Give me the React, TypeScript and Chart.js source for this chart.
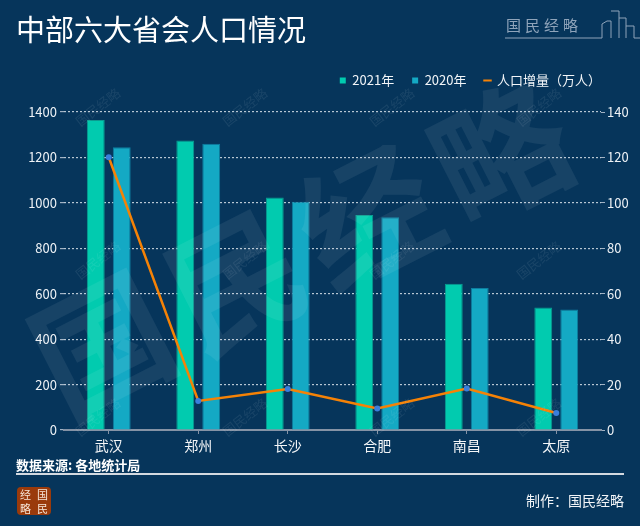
import React, { useEffect, useRef } from 'react';
import { Chart, registerables } from 'chart.js';

Chart.register(...registerables);

const categories = ['武汉', '郑州', '长沙', '合肥', '南昌', '太原'];
const pop2021 = [1364.9, 1274.2, 1023.9, 946.5, 643.8, 539.1];
const pop2020 = [1244.8, 1260.1, 1004.8, 937.0, 625.5, 530.4];
const increase = [120.1, 12.8, 18.0, 9.5, 18.3, 7.5];
const seriesNames = ['2021年', '2020年', '人口增量（万人）'];
const leftAxis = { min: 0, max: 1400, step: 200 };
const rightAxis = { min: 0, max: 140, step: 20 };
const watermarkText = ['国', '民', '经', '略'];

const FONT = '"Noto Sans CJK SC", "Noto Sans", sans-serif';
const BG = '#06355b';

const legendTweak = {
  id: 'legendTweak',
  beforeUpdate(chart: any) {
    const lg = chart.legend;
    if (lg && !lg._gapPatched) {
      const orig = lg.fit.bind(lg);
      lg.fit = function () {
        orig();
        this.height += 15;
      };
      lg._gapPatched = true;
    }
  },
  afterLayout(chart: any) {
    const lg = chart.legend;
    if (lg) {
      lg.right = 619;
      lg.width = lg.right - lg.left;
    }
  },
};

const watermark = {
  id: 'watermark',
  afterDraw(chart: any) {
    const ctx = chart.ctx as CanvasRenderingContext2D;
    ctx.save();
    ctx.fillStyle = 'rgba(255,255,255,0.07)';
    ctx.font = `bold 135px ${FONT}`;
    ctx.textAlign = 'center';
    ctx.textBaseline = 'middle';
    const ang = (-27 * Math.PI) / 180;
    watermarkText.forEach((ch, i) => {
      ctx.save();
      ctx.translate(102 + i * 133, 345 - i * 64);
      ctx.rotate(ang);
      ctx.fillText(ch, 0, 0);
      ctx.restore();
    });
    ctx.fillStyle = 'rgba(255,255,255,0.08)';
    ctx.font = `13px ${FONT}`;
    const xs = [98, 245, 392, 539];
    const ys = [107, 260, 417];
    ys.forEach((y) =>
      xs.forEach((x) => {
        ctx.save();
        ctx.translate(x, y);
        ctx.rotate((-38 * Math.PI) / 180);
        ctx.fillText(watermarkText.join(''), 0, 0);
        ctx.restore();
      })
    );
    ctx.restore();
  },
};

function ChartCanvas() {
  const ref = useRef<HTMLCanvasElement>(null);
  useEffect(() => {
    if (!ref.current) return;
    Chart.defaults.font.family = FONT;
    const chart = new Chart(ref.current, {
      type: 'bar',
      data: {
        labels: categories,
        datasets: [
          {
            type: 'bar',
            label: seriesNames[0],
            data: pop2021,
            backgroundColor: '#01cbaf',
            borderColor: '#0a9c90',
            borderWidth: 1,
            yAxisID: 'y',
            order: 1,
            categoryPercentage: 0.58,
            barPercentage: 0.69,
          },
          {
            type: 'bar',
            label: seriesNames[1],
            data: pop2020,
            backgroundColor: '#14a9c4',
            borderColor: '#0e7ea0',
            borderWidth: 1,
            yAxisID: 'y',
            order: 1,
            categoryPercentage: 0.58,
            barPercentage: 0.69,
          },
          {
            type: 'line',
            label: seriesNames[2],
            data: increase,
            borderColor: '#f58206',
            backgroundColor: '#f58206',
            borderWidth: 2.5,
            pointRadius: 3,
            pointBackgroundColor: '#3a7fdc',
            pointBorderColor: '#3a7fdc',
            pointBorderWidth: 0,
            tension: 0,
            yAxisID: 'y1',
            order: 0,
          } as any,
        ],
      },
      options: {
        responsive: false,
        animation: false,
        layout: { padding: { top: 56, left: 0, right: 0, bottom: 0 } },
        plugins: {
          tooltip: { enabled: false },
          legend: {
            display: true,
            position: 'top',
            align: 'end',
            labels: {
              color: '#f2f5f8',
              font: { size: 13, family: FONT },
              usePointStyle: true,
              boxWidth: 6,
              boxHeight: 6,
              padding: 18,
              generateLabels: (chart: any) =>
                chart.data.datasets.map((ds: any, i: number) => ({
                  text: ds.label,
                  fillStyle: ds.type === 'line' ? ds.borderColor : ds.backgroundColor,
                  strokeStyle: ds.type === 'line' ? ds.borderColor : ds.backgroundColor,
                  lineWidth: ds.type === 'line' ? 2 : 0,
                  pointStyle: ds.type === 'line' ? 'line' : 'rect',
                  fontColor: '#f2f5f8',
                  hidden: false,
                  datasetIndex: i,
                })),
            },
          },
        },
        scales: {
          x: {
            type: 'category',
            offset: true,
            ticks: { color: '#f4f6f8', font: { size: 14 }, padding: 3 },
            grid: {
              display: true,
              drawOnChartArea: false,
              offset: false,
              drawTicks: true,
              tickLength: 4,
              color: '#8593a6',
              tickColor: '#8593a6',
            },
            border: { display: true, color: '#8593a6', width: 2 },
            afterFit: (s: any) => {
              s.height = 96;
            },
          },
          y: {
            position: 'left',
            min: leftAxis.min,
            max: leftAxis.max,
            ticks: {
              stepSize: leftAxis.step,
              color: '#eef2f6',
              font: { size: 13 },
              padding: 3,
              callback: (v: any) => String(v),
            },
            grid: {
              color: 'rgba(215,224,233,0.85)',
              lineWidth: 1.2,
              tickLength: 4,
              tickColor: 'rgba(200,210,222,0.8)',
            },
            border: { display: false, dash: [2, 2] },
            afterFit: (s: any) => {
              s.width = 64;
            },
          },
          y1: {
            position: 'right',
            min: rightAxis.min,
            max: rightAxis.max,
            ticks: {
              stepSize: rightAxis.step,
              color: '#eef2f6',
              font: { size: 13 },
              padding: 2,
              callback: (v: any) => String(v),
            },
            grid: {
              drawOnChartArea: false,
              tickLength: 4,
              color: 'rgba(200,210,222,0.8)',
              tickColor: 'rgba(200,210,222,0.8)',
            },
            border: { display: false },
            afterFit: (s: any) => {
              s.width = 39;
            },
          },
        },
      } as any,
      plugins: [legendTweak, watermark],
    });
    return () => chart.destroy();
  }, []);
  return (
    <canvas
      ref={ref}
      width={640}
      height={526}
      style={{ position: 'absolute', left: 0, top: 0, width: 640, height: 526 }}
    />
  );
}

export default function App() {
  return (
    <div
      style={{
        position: 'fixed',
        left: 0,
        top: 0,
        width: 640,
        height: 526,
        background: BG,
        overflow: 'hidden',
        fontFamily: FONT,
        color: '#ffffff',
      }}
    >
      <ChartCanvas />
      <div
        style={{
          position: 'absolute',
          left: 16,
          top: 12,
          fontSize: 29,
          lineHeight: '32px',
          color: '#ffffff',
          whiteSpace: 'nowrap',
        }}
      >
        中部六大省会人口情况
      </div>
      <svg
        width={140}
        height={50}
        style={{ position: 'absolute', left: 500, top: 0 }}
        viewBox="500 0 140 50"
      >
        <text
          x={506}
          y={31}
          fill="#8fa4ba"
          fontSize={15}
          fontFamily={FONT}
          letterSpacing={4}
        >
          国民经略
        </text>
        <path
          d="M505 38 H602 V24 L607 21 H611 V38 M611 11 H619 V38 M619 18 H626 V38 M626 26 H634 V38 H640"
          fill="none"
          stroke="#8fa4ba"
          strokeWidth={1}
        />
      </svg>
      <div
        style={{
          position: 'absolute',
          left: 16,
          top: 456,
          fontSize: 13,
          lineHeight: '18px',
          fontWeight: 700,
          whiteSpace: 'nowrap',
        }}
      >
        数据来源: 各地统计局
      </div>
      <div
        style={{
          position: 'absolute',
          left: 16,
          top: 473,
          width: 608,
          height: 2,
          background: '#d3d9e0',
        }}
      />
      <div
        style={{
          position: 'absolute',
          left: 17,
          top: 487,
          width: 34,
          height: 28,
          background: '#9a3a0b',
          borderRadius: 4,
          display: 'grid',
          gridTemplateColumns: '1fr 1fr',
          alignItems: 'center',
          justifyItems: 'center',
          fontSize: 11,
          lineHeight: '12px',
          color: '#f6e6d8',
        }}
      >
        <span>经</span>
        <span>国</span>
        <span>略</span>
        <span>民</span>
      </div>
      <div
        style={{
          position: 'absolute',
          right: 16,
          top: 490,
          fontSize: 14,
          lineHeight: '20px',
          whiteSpace: 'nowrap',
          color: '#f2f5f8',
        }}
      >
        制作：国民经略
      </div>
    </div>
  );
}
